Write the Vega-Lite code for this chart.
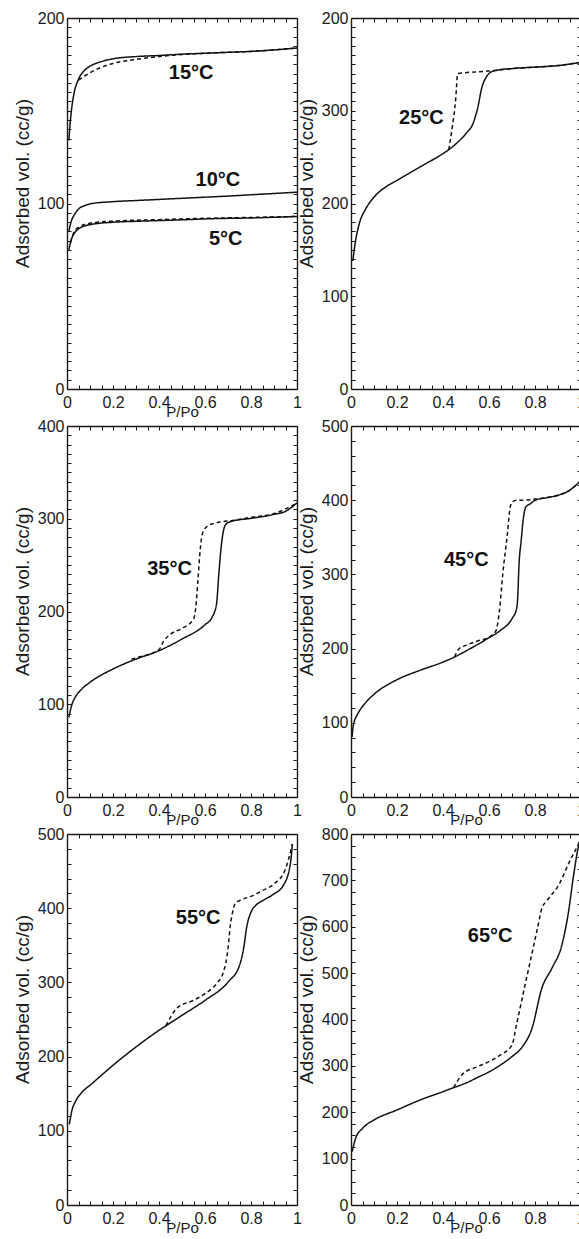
{
  "$schema": "https://vega.github.io/schema/vega-lite/v6.json",
  "padding": {"left": 13, "top": 10, "right": 0, "bottom": 0},
  "background": "white",
  "datasets": {
    "iso": [
      {"p":"a","T":"15","b":"ads","x":0.008,"y":134},{"p":"a","T":"15","b":"ads","x":0.015,"y":145},{"p":"a","T":"15","b":"ads","x":0.02,"y":151},{"p":"a","T":"15","b":"ads","x":0.03,"y":159},{"p":"a","T":"15","b":"ads","x":0.05,"y":167},{"p":"a","T":"15","b":"ads","x":0.07,"y":171},{"p":"a","T":"15","b":"ads","x":0.1,"y":174},{"p":"a","T":"15","b":"ads","x":0.15,"y":176.5},{"p":"a","T":"15","b":"ads","x":0.2,"y":178},{"p":"a","T":"15","b":"ads","x":0.3,"y":179.2},{"p":"a","T":"15","b":"ads","x":0.4,"y":179.8},{"p":"a","T":"15","b":"ads","x":0.5,"y":180.5},{"p":"a","T":"15","b":"ads","x":0.6,"y":181},{"p":"a","T":"15","b":"ads","x":0.7,"y":181.5},{"p":"a","T":"15","b":"ads","x":0.8,"y":182},{"p":"a","T":"15","b":"ads","x":0.9,"y":182.8},{"p":"a","T":"15","b":"ads","x":1.0,"y":183.8},
      {"p":"a","T":"15","b":"des","x":0.05,"y":166.5},{"p":"a","T":"15","b":"des","x":0.08,"y":169},{"p":"a","T":"15","b":"des","x":0.1,"y":170.5},{"p":"a","T":"15","b":"des","x":0.15,"y":173.5},{"p":"a","T":"15","b":"des","x":0.2,"y":175.5},{"p":"a","T":"15","b":"des","x":0.3,"y":177.7},{"p":"a","T":"15","b":"des","x":0.4,"y":179.2},{"p":"a","T":"15","b":"des","x":0.5,"y":180.3},{"p":"a","T":"15","b":"des","x":0.6,"y":181},{"p":"a","T":"15","b":"des","x":0.8,"y":182},{"p":"a","T":"15","b":"des","x":1.0,"y":183.8},
      {"p":"a","T":"10","b":"ads","x":0.008,"y":85},{"p":"a","T":"10","b":"ads","x":0.02,"y":91},{"p":"a","T":"10","b":"ads","x":0.03,"y":93.5},{"p":"a","T":"10","b":"ads","x":0.05,"y":97},{"p":"a","T":"10","b":"ads","x":0.08,"y":99},{"p":"a","T":"10","b":"ads","x":0.1,"y":99.8},{"p":"a","T":"10","b":"ads","x":0.2,"y":101},{"p":"a","T":"10","b":"ads","x":0.3,"y":101.6},{"p":"a","T":"10","b":"ads","x":0.4,"y":102.2},{"p":"a","T":"10","b":"ads","x":0.5,"y":102.8},{"p":"a","T":"10","b":"ads","x":0.6,"y":103.4},{"p":"a","T":"10","b":"ads","x":0.7,"y":104},{"p":"a","T":"10","b":"ads","x":0.8,"y":104.7},{"p":"a","T":"10","b":"ads","x":0.9,"y":105.4},{"p":"a","T":"10","b":"ads","x":1.0,"y":106.1},
      {"p":"a","T":"5","b":"ads","x":0.008,"y":75},{"p":"a","T":"5","b":"ads","x":0.02,"y":81},{"p":"a","T":"5","b":"ads","x":0.03,"y":83.6},{"p":"a","T":"5","b":"ads","x":0.05,"y":86.3},{"p":"a","T":"5","b":"ads","x":0.1,"y":88.6},{"p":"a","T":"5","b":"ads","x":0.2,"y":89.9},{"p":"a","T":"5","b":"ads","x":0.3,"y":90.4},{"p":"a","T":"5","b":"ads","x":0.4,"y":90.8},{"p":"a","T":"5","b":"ads","x":0.5,"y":91.2},{"p":"a","T":"5","b":"ads","x":0.6,"y":91.7},{"p":"a","T":"5","b":"ads","x":0.7,"y":92},{"p":"a","T":"5","b":"ads","x":0.8,"y":92.2},{"p":"a","T":"5","b":"ads","x":0.9,"y":92.6},{"p":"a","T":"5","b":"ads","x":1.0,"y":93},
      {"p":"a","T":"5","b":"des","x":0.015,"y":79},{"p":"a","T":"5","b":"des","x":0.03,"y":84.5},{"p":"a","T":"5","b":"des","x":0.05,"y":87.2},{"p":"a","T":"5","b":"des","x":0.1,"y":89.4},{"p":"a","T":"5","b":"des","x":0.2,"y":90.5},{"p":"a","T":"5","b":"des","x":0.3,"y":91},{"p":"a","T":"5","b":"des","x":0.4,"y":91.3},{"p":"a","T":"5","b":"des","x":0.5,"y":91.7},{"p":"a","T":"5","b":"des","x":0.6,"y":92},{"p":"a","T":"5","b":"des","x":0.8,"y":92.5},{"p":"a","T":"5","b":"des","x":1.0,"y":93},

      {"p":"b","T":"25","b":"ads","x":0.008,"y":138},{"p":"b","T":"25","b":"ads","x":0.015,"y":152},{"p":"b","T":"25","b":"ads","x":0.02,"y":160},{"p":"b","T":"25","b":"ads","x":0.04,"y":181.6},{"p":"b","T":"25","b":"ads","x":0.06,"y":192.4},{"p":"b","T":"25","b":"ads","x":0.1,"y":206.9},{"p":"b","T":"25","b":"ads","x":0.15,"y":217.7},{"p":"b","T":"25","b":"ads","x":0.2,"y":224.9},{"p":"b","T":"25","b":"ads","x":0.3,"y":239.4},{"p":"b","T":"25","b":"ads","x":0.4,"y":253.8},{"p":"b","T":"25","b":"ads","x":0.425,"y":258},{"p":"b","T":"25","b":"ads","x":0.45,"y":263},{"p":"b","T":"25","b":"ads","x":0.5,"y":275.5},{"p":"b","T":"25","b":"ads","x":0.53,"y":286},{"p":"b","T":"25","b":"ads","x":0.55,"y":302},{"p":"b","T":"25","b":"ads","x":0.57,"y":326},{"p":"b","T":"25","b":"ads","x":0.59,"y":337},{"p":"b","T":"25","b":"ads","x":0.61,"y":342},{"p":"b","T":"25","b":"ads","x":0.63,"y":343.5},{"p":"b","T":"25","b":"ads","x":0.7,"y":345.5},{"p":"b","T":"25","b":"ads","x":0.8,"y":347},{"p":"b","T":"25","b":"ads","x":0.9,"y":348.7},{"p":"b","T":"25","b":"ads","x":1.0,"y":352.3},
      {"p":"b","T":"25","b":"des","x":0.425,"y":258},{"p":"b","T":"25","b":"des","x":0.44,"y":282},{"p":"b","T":"25","b":"des","x":0.455,"y":312},{"p":"b","T":"25","b":"des","x":0.464,"y":340},{"p":"b","T":"25","b":"des","x":0.58,"y":342.5},{"p":"b","T":"25","b":"des","x":0.62,"y":343.3},{"p":"b","T":"25","b":"des","x":0.7,"y":345.5},{"p":"b","T":"25","b":"des","x":0.8,"y":347},{"p":"b","T":"25","b":"des","x":0.9,"y":348.7},{"p":"b","T":"25","b":"des","x":1.0,"y":352.3},

      {"p":"c","T":"35","b":"ads","x":0.008,"y":86},{"p":"c","T":"35","b":"ads","x":0.02,"y":98.6},{"p":"c","T":"35","b":"ads","x":0.04,"y":109.3},{"p":"c","T":"35","b":"ads","x":0.06,"y":115.4},{"p":"c","T":"35","b":"ads","x":0.1,"y":123.7},{"p":"c","T":"35","b":"ads","x":0.2,"y":138},{"p":"c","T":"35","b":"ads","x":0.3,"y":148.7},{"p":"c","T":"35","b":"ads","x":0.4,"y":157.7},{"p":"c","T":"35","b":"ads","x":0.5,"y":170.3},{"p":"c","T":"35","b":"ads","x":0.6,"y":185.7},{"p":"c","T":"35","b":"ads","x":0.63,"y":193.5},{"p":"c","T":"35","b":"ads","x":0.65,"y":207.9},{"p":"c","T":"35","b":"ads","x":0.66,"y":240},{"p":"c","T":"35","b":"ads","x":0.67,"y":268.8},{"p":"c","T":"35","b":"ads","x":0.68,"y":286.7},{"p":"c","T":"35","b":"ads","x":0.69,"y":293.9},{"p":"c","T":"35","b":"ads","x":0.72,"y":297.5},{"p":"c","T":"35","b":"ads","x":0.8,"y":300.4},{"p":"c","T":"35","b":"ads","x":0.9,"y":304.7},{"p":"c","T":"35","b":"ads","x":0.95,"y":308},{"p":"c","T":"35","b":"ads","x":1.0,"y":317.2},
      {"p":"c","T":"35","b":"des","x":0.28,"y":148.5},{"p":"c","T":"35","b":"des","x":0.3,"y":150},{"p":"c","T":"35","b":"des","x":0.4,"y":159},{"p":"c","T":"35","b":"des","x":0.42,"y":168},{"p":"c","T":"35","b":"des","x":0.45,"y":175.6},{"p":"c","T":"35","b":"des","x":0.5,"y":181.7},{"p":"c","T":"35","b":"des","x":0.55,"y":191.8},{"p":"c","T":"35","b":"des","x":0.56,"y":204.3},{"p":"c","T":"35","b":"des","x":0.57,"y":236.6},{"p":"c","T":"35","b":"des","x":0.58,"y":268.8},{"p":"c","T":"35","b":"des","x":0.59,"y":285},{"p":"c","T":"35","b":"des","x":0.61,"y":292},{"p":"c","T":"35","b":"des","x":0.65,"y":295.7},{"p":"c","T":"35","b":"des","x":0.72,"y":298.2},{"p":"c","T":"35","b":"des","x":0.8,"y":301.5},{"p":"c","T":"35","b":"des","x":0.9,"y":305.5},{"p":"c","T":"35","b":"des","x":1.0,"y":317},

      {"p":"d","T":"45","b":"ads","x":0.005,"y":81},{"p":"d","T":"45","b":"ads","x":0.01,"y":96.6},{"p":"d","T":"45","b":"ads","x":0.03,"y":112.3},{"p":"d","T":"45","b":"ads","x":0.06,"y":125.8},{"p":"d","T":"45","b":"ads","x":0.1,"y":138.4},{"p":"d","T":"45","b":"ads","x":0.2,"y":158.1},{"p":"d","T":"45","b":"ads","x":0.3,"y":170.7},{"p":"d","T":"45","b":"ads","x":0.4,"y":181.9},{"p":"d","T":"45","b":"ads","x":0.45,"y":188.7},{"p":"d","T":"45","b":"ads","x":0.5,"y":196.8},{"p":"d","T":"45","b":"ads","x":0.6,"y":214.7},{"p":"d","T":"45","b":"ads","x":0.65,"y":224.6},{"p":"d","T":"45","b":"ads","x":0.7,"y":240.3},{"p":"d","T":"45","b":"ads","x":0.72,"y":253.8},{"p":"d","T":"45","b":"ads","x":0.725,"y":269.5},{"p":"d","T":"45","b":"ads","x":0.73,"y":310},{"p":"d","T":"45","b":"ads","x":0.74,"y":346},{"p":"d","T":"45","b":"ads","x":0.75,"y":377},{"p":"d","T":"45","b":"ads","x":0.76,"y":390.8},{"p":"d","T":"45","b":"ads","x":0.78,"y":395.3},{"p":"d","T":"45","b":"ads","x":0.8,"y":399.8},{"p":"d","T":"45","b":"ads","x":0.85,"y":403.4},{"p":"d","T":"45","b":"ads","x":0.9,"y":406.6},{"p":"d","T":"45","b":"ads","x":0.95,"y":413.3},{"p":"d","T":"45","b":"ads","x":1.0,"y":426.8},
      {"p":"d","T":"45","b":"des","x":0.45,"y":188.7},{"p":"d","T":"45","b":"des","x":0.47,"y":199.9},{"p":"d","T":"45","b":"des","x":0.5,"y":204.4},{"p":"d","T":"45","b":"des","x":0.55,"y":210.2},{"p":"d","T":"45","b":"des","x":0.6,"y":215.6},{"p":"d","T":"45","b":"des","x":0.63,"y":224},{"p":"d","T":"45","b":"des","x":0.645,"y":250},{"p":"d","T":"45","b":"des","x":0.66,"y":301},{"p":"d","T":"45","b":"des","x":0.68,"y":354.9},{"p":"d","T":"45","b":"des","x":0.69,"y":386.3},{"p":"d","T":"45","b":"des","x":0.7,"y":397.6},{"p":"d","T":"45","b":"des","x":0.72,"y":399.8},{"p":"d","T":"45","b":"des","x":0.76,"y":400.2},{"p":"d","T":"45","b":"des","x":0.8,"y":401.5},{"p":"d","T":"45","b":"des","x":0.85,"y":403.4},{"p":"d","T":"45","b":"des","x":0.9,"y":406.6},{"p":"d","T":"45","b":"des","x":0.95,"y":413.3},{"p":"d","T":"45","b":"des","x":1.0,"y":426.8},

      {"p":"e","T":"55","b":"ads","x":0.01,"y":108.5},{"p":"e","T":"55","b":"ads","x":0.02,"y":125.6},{"p":"e","T":"55","b":"ads","x":0.04,"y":141.3},{"p":"e","T":"55","b":"ads","x":0.06,"y":150.2},{"p":"e","T":"55","b":"ads","x":0.08,"y":156.5},{"p":"e","T":"55","b":"ads","x":0.1,"y":161.4},{"p":"e","T":"55","b":"ads","x":0.13,"y":169.5},{"p":"e","T":"55","b":"ads","x":0.2,"y":188.3},{"p":"e","T":"55","b":"ads","x":0.3,"y":213},{"p":"e","T":"55","b":"ads","x":0.4,"y":235.4},{"p":"e","T":"55","b":"ads","x":0.43,"y":241.5},{"p":"e","T":"55","b":"ads","x":0.5,"y":255.6},{"p":"e","T":"55","b":"ads","x":0.6,"y":275.8},{"p":"e","T":"55","b":"ads","x":0.7,"y":300.4},{"p":"e","T":"55","b":"ads","x":0.75,"y":322.9},{"p":"e","T":"55","b":"ads","x":0.77,"y":349.8},{"p":"e","T":"55","b":"ads","x":0.78,"y":372.2},{"p":"e","T":"55","b":"ads","x":0.8,"y":394.6},{"p":"e","T":"55","b":"ads","x":0.82,"y":403.6},{"p":"e","T":"55","b":"ads","x":0.85,"y":410},{"p":"e","T":"55","b":"ads","x":0.9,"y":419.3},{"p":"e","T":"55","b":"ads","x":0.94,"y":430.5},{"p":"e","T":"55","b":"ads","x":0.97,"y":457.4},{"p":"e","T":"55","b":"ads","x":0.98,"y":486.5},
      {"p":"e","T":"55","b":"des","x":0.43,"y":241.5},{"p":"e","T":"55","b":"des","x":0.48,"y":265.9},{"p":"e","T":"55","b":"des","x":0.55,"y":275.8},{"p":"e","T":"55","b":"des","x":0.6,"y":284.8},{"p":"e","T":"55","b":"des","x":0.65,"y":298.2},{"p":"e","T":"55","b":"des","x":0.68,"y":314},{"p":"e","T":"55","b":"des","x":0.7,"y":345.3},{"p":"e","T":"55","b":"des","x":0.71,"y":376.7},{"p":"e","T":"55","b":"des","x":0.72,"y":394.6},{"p":"e","T":"55","b":"des","x":0.73,"y":405.8},{"p":"e","T":"55","b":"des","x":0.75,"y":410.3},{"p":"e","T":"55","b":"des","x":0.8,"y":416},{"p":"e","T":"55","b":"des","x":0.85,"y":423.8},{"p":"e","T":"55","b":"des","x":0.9,"y":432.7},{"p":"e","T":"55","b":"des","x":0.95,"y":452.9},{"p":"e","T":"55","b":"des","x":0.98,"y":486.5},

      {"p":"f","T":"65","b":"ads","x":0.005,"y":115},{"p":"f","T":"65","b":"ads","x":0.02,"y":143.8},{"p":"f","T":"65","b":"ads","x":0.05,"y":165.3},{"p":"f","T":"65","b":"ads","x":0.1,"y":183.3},{"p":"f","T":"65","b":"ads","x":0.2,"y":204.9},{"p":"f","T":"65","b":"ads","x":0.3,"y":226.4},{"p":"f","T":"65","b":"ads","x":0.4,"y":244.4},{"p":"f","T":"65","b":"ads","x":0.446,"y":253},{"p":"f","T":"65","b":"ads","x":0.5,"y":263},{"p":"f","T":"65","b":"ads","x":0.55,"y":275},{"p":"f","T":"65","b":"ads","x":0.6,"y":287},{"p":"f","T":"65","b":"ads","x":0.65,"y":302},{"p":"f","T":"65","b":"ads","x":0.7,"y":320},{"p":"f","T":"65","b":"ads","x":0.743,"y":340},{"p":"f","T":"65","b":"ads","x":0.787,"y":381},{"p":"f","T":"65","b":"ads","x":0.83,"y":468},{"p":"f","T":"65","b":"ads","x":0.874,"y":511},{"p":"f","T":"65","b":"ads","x":0.917,"y":561},{"p":"f","T":"65","b":"ads","x":0.946,"y":633},{"p":"f","T":"65","b":"ads","x":0.968,"y":712},{"p":"f","T":"65","b":"ads","x":0.99,"y":775},{"p":"f","T":"65","b":"ads","x":1.0,"y":792},
      {"p":"f","T":"65","b":"des","x":0.446,"y":253},{"p":"f","T":"65","b":"des","x":0.483,"y":281},{"p":"f","T":"65","b":"des","x":0.55,"y":298.3},{"p":"f","T":"65","b":"des","x":0.6,"y":309.1},{"p":"f","T":"65","b":"des","x":0.65,"y":323.5},{"p":"f","T":"65","b":"des","x":0.7,"y":345},{"p":"f","T":"65","b":"des","x":0.72,"y":390},{"p":"f","T":"65","b":"des","x":0.75,"y":459},{"p":"f","T":"65","b":"des","x":0.78,"y":527},{"p":"f","T":"65","b":"des","x":0.81,"y":595},{"p":"f","T":"65","b":"des","x":0.83,"y":640},{"p":"f","T":"65","b":"des","x":0.85,"y":655},{"p":"f","T":"65","b":"des","x":0.903,"y":690},{"p":"f","T":"65","b":"des","x":0.95,"y":740.5},{"p":"f","T":"65","b":"des","x":0.99,"y":780},{"p":"f","T":"65","b":"des","x":1.0,"y":792}
    ],
    "lab": [
      {"p":"a","x":0.54,"y":170.6,"t":"15°C"},
      {"p":"a","x":0.656,"y":112.5,"t":"10°C"},
      {"p":"a","x":0.69,"y":80.9,"t":"5°C"},
      {"p":"b","x":0.306,"y":291.7,"t":"25°C"},
      {"p":"c","x":0.446,"y":245.5,"t":"35°C"},
      {"p":"d","x":0.501,"y":319,"t":"45°C"},
      {"p":"e","x":0.57,"y":387,"t":"55°C"},
      {"p":"f","x":0.605,"y":580,"t":"65°C"}
    ]
  },
  "config": {
    "font": "Liberation Sans",
    "view": {"stroke": null},
    "axis": {
      "grid": false,
      "domainColor": "#1a1a1a",
      "domainWidth": 1.4,
      "tickColor": "#1a1a1a",
      "tickWidth": 1,
      "tickSize": -4,
      "labelColor": "#1a1a1a",
      "titleColor": "#1a1a1a",
      "labelFont": "Liberation Sans",
      "titleFont": "Liberation Sans",
      "labelFontSize": 16,
      "titleFontSize": 15,
      "titleFontWeight": "normal",
      "labelOverlap": false,
      "labelFlush": false
    },
    "axisBottom": {"labelPadding": 9, "titlePadding": -6},
    "axisLeft": {"labelPadding": 7, "titlePadding": 5, "titleFontSize": 19, "titleY": 165},
    "text": {"font": "Liberation Sans", "fontWeight": "bold", "fontSize": 20, "color": "#111"},
    "line": {"color": "#111", "strokeWidth": 1.5, "interpolate": "monotone"}
  },
  "bounds": "flush",
  "columns": 2,
  "spacing": {"row": 37, "column": 54},
  "concat": [
      {"width": 230, "height": 371,
       "resolve": {"axis": {"x": "independent", "y": "independent"}},
       "layer": [
        {"data": {"name": "iso"}, "transform": [{"filter": "datum.p == 'a'"}],
         "mark": {"type": "line"},
         "encoding": {
          "x": {"field": "x", "type": "quantitative", "scale": {"domain": [0, 1], "nice": false, "zero": false},
                "axis": {"orient": "bottom", "title": "P/Po", "values": [0,0.05,0.1,0.15,0.2,0.25,0.3,0.35,0.4,0.45,0.5,0.55,0.6,0.65,0.7,0.75,0.8,0.85,0.9,0.95,1], "labelExpr": "abs(datum.value*5 - round(datum.value*5)) < 0.001 ? format(datum.value, '~g') : ''"}},
          "y": {"field": "y", "type": "quantitative", "scale": {"domain": [0, 200], "nice": false},
                "axis": {"orient": "left", "title": "Adsorbed vol. (cc/g)", "values": [0,5,10,15,20,25,30,35,40,45,50,55,60,65,70,75,80,85,90,95,100,105,110,115,120,125,130,135,140,145,150,155,160,165,170,175,180,185,190,195,200], "labelExpr": "datum.value % 100 == 0 ? format(datum.value, 'd') : ''"}},
          "detail": {"field": "T", "type": "nominal"},
          "strokeDash": {"field": "b", "type": "nominal", "scale": {"domain": ["ads", "des"], "range": [[1, 0], [4, 3]]}, "legend": null}
         }},
        {"data": {"name": "iso"}, "transform": [{"filter": "datum.p == 'a'"}],
         "mark": {"type": "line", "opacity": 0},
         "encoding": {
          "x": {"field": "x", "type": "quantitative", "axis": {"orient": "top", "title": null, "labels": false, "values": [0,0.05,0.1,0.15,0.2,0.25,0.3,0.35,0.4,0.45,0.5,0.55,0.6,0.65,0.7,0.75,0.8,0.85,0.9,0.95,1]}},
          "y": {"field": "y", "type": "quantitative", "axis": {"orient": "right", "title": null, "labels": false, "values": [0,5,10,15,20,25,30,35,40,45,50,55,60,65,70,75,80,85,90,95,100,105,110,115,120,125,130,135,140,145,150,155,160,165,170,175,180,185,190,195,200]}},
          "detail": {"field": "T", "type": "nominal"}
         }},
        {"data": {"name": "lab"}, "transform": [{"filter": "datum.p == 'a'"}],
         "mark": {"type": "text"},
         "encoding": {
          "x": {"field": "x", "type": "quantitative", "axis": null},
          "y": {"field": "y", "type": "quantitative", "axis": null},
          "text": {"field": "t"}
         }}
       ]},
      {"width": 230, "height": 371,
       "resolve": {"axis": {"x": "independent", "y": "independent"}},
       "layer": [
        {"data": {"name": "iso"}, "transform": [{"filter": "datum.p == 'b'"}],
         "mark": {"type": "line"},
         "encoding": {
          "x": {"field": "x", "type": "quantitative", "scale": {"domain": [0, 1], "nice": false, "zero": false},
                "axis": {"orient": "bottom", "title": null, "values": [0,0.05,0.1,0.15,0.2,0.25,0.3,0.35,0.4,0.45,0.5,0.55,0.6,0.65,0.7,0.75,0.8,0.85,0.9,0.95,1], "labelExpr": "abs(datum.value*5 - round(datum.value*5)) < 0.001 ? format(datum.value, '~g') : ''"}},
          "y": {"field": "y", "type": "quantitative", "scale": {"domain": [0, 400], "nice": false},
                "axis": {"orient": "left", "title": "Adsorbed vol. (cc/g)", "values": [0,10,20,30,40,50,60,70,80,90,100,110,120,130,140,150,160,170,180,190,200,210,220,230,240,250,260,270,280,290,300,310,320,330,340,350,360,370,380,390,400], "labelExpr": "datum.value == 400 ? '200' : (datum.value % 100 == 0 ? format(datum.value, 'd') : '')"}},
          "strokeDash": {"field": "b", "type": "nominal", "scale": {"domain": ["ads", "des"], "range": [[1, 0], [4, 3]]}, "legend": null}
         }},
        {"data": {"name": "iso"}, "transform": [{"filter": "datum.p == 'b'"}],
         "mark": {"type": "line", "opacity": 0},
         "encoding": {
          "x": {"field": "x", "type": "quantitative", "axis": {"orient": "top", "title": null, "labels": false, "values": [0,0.05,0.1,0.15,0.2,0.25,0.3,0.35,0.4,0.45,0.5,0.55,0.6,0.65,0.7,0.75,0.8,0.85,0.9,0.95,1]}},
          "y": {"field": "y", "type": "quantitative", "axis": {"orient": "right", "title": null, "labels": false, "values": [0,10,20,30,40,50,60,70,80,90,100,110,120,130,140,150,160,170,180,190,200,210,220,230,240,250,260,270,280,290,300,310,320,330,340,350,360,370,380,390,400]}}
         }},
        {"data": {"name": "lab"}, "transform": [{"filter": "datum.p == 'b'"}],
         "mark": {"type": "text"},
         "encoding": {
          "x": {"field": "x", "type": "quantitative", "axis": null},
          "y": {"field": "y", "type": "quantitative", "axis": null},
          "text": {"field": "t"}
         }}
       ]},
      {"width": 230, "height": 371,
       "resolve": {"axis": {"x": "independent", "y": "independent"}},
       "layer": [
        {"data": {"name": "iso"}, "transform": [{"filter": "datum.p == 'c'"}],
         "mark": {"type": "line"},
         "encoding": {
          "x": {"field": "x", "type": "quantitative", "scale": {"domain": [0, 1], "nice": false, "zero": false},
                "axis": {"orient": "bottom", "title": "P/Po", "values": [0,0.05,0.1,0.15,0.2,0.25,0.3,0.35,0.4,0.45,0.5,0.55,0.6,0.65,0.7,0.75,0.8,0.85,0.9,0.95,1], "labelExpr": "abs(datum.value*5 - round(datum.value*5)) < 0.001 ? format(datum.value, '~g') : ''"}},
          "y": {"field": "y", "type": "quantitative", "scale": {"domain": [0, 400], "nice": false},
                "axis": {"orient": "left", "title": "Adsorbed vol. (cc/g)", "values": [0,10,20,30,40,50,60,70,80,90,100,110,120,130,140,150,160,170,180,190,200,210,220,230,240,250,260,270,280,290,300,310,320,330,340,350,360,370,380,390,400], "labelExpr": "datum.value % 100 == 0 ? format(datum.value, 'd') : ''"}},
          "strokeDash": {"field": "b", "type": "nominal", "scale": {"domain": ["ads", "des"], "range": [[1, 0], [4, 3]]}, "legend": null}
         }},
        {"data": {"name": "iso"}, "transform": [{"filter": "datum.p == 'c'"}],
         "mark": {"type": "line", "opacity": 0},
         "encoding": {
          "x": {"field": "x", "type": "quantitative", "axis": {"orient": "top", "title": null, "labels": false, "values": [0,0.05,0.1,0.15,0.2,0.25,0.3,0.35,0.4,0.45,0.5,0.55,0.6,0.65,0.7,0.75,0.8,0.85,0.9,0.95,1]}},
          "y": {"field": "y", "type": "quantitative", "axis": {"orient": "right", "title": null, "labels": false, "values": [0,10,20,30,40,50,60,70,80,90,100,110,120,130,140,150,160,170,180,190,200,210,220,230,240,250,260,270,280,290,300,310,320,330,340,350,360,370,380,390,400]}}
         }},
        {"data": {"name": "lab"}, "transform": [{"filter": "datum.p == 'c'"}],
         "mark": {"type": "text"},
         "encoding": {
          "x": {"field": "x", "type": "quantitative", "axis": null},
          "y": {"field": "y", "type": "quantitative", "axis": null},
          "text": {"field": "t"}
         }}
       ]},
      {"width": 230, "height": 371,
       "resolve": {"axis": {"x": "independent", "y": "independent"}},
       "layer": [
        {"data": {"name": "iso"}, "transform": [{"filter": "datum.p == 'd'"}],
         "mark": {"type": "line"},
         "encoding": {
          "x": {"field": "x", "type": "quantitative", "scale": {"domain": [0, 1], "nice": false, "zero": false},
                "axis": {"orient": "bottom", "title": "P/Po", "values": [0,0.05,0.1,0.15,0.2,0.25,0.3,0.35,0.4,0.45,0.5,0.55,0.6,0.65,0.7,0.75,0.8,0.85,0.9,0.95,1], "labelExpr": "abs(datum.value*5 - round(datum.value*5)) < 0.001 ? format(datum.value, '~g') : ''"}},
          "y": {"field": "y", "type": "quantitative", "scale": {"domain": [0, 500], "nice": false},
                "axis": {"orient": "left", "title": "Adsorbed vol. (cc/g)", "values": [0,20,40,60,80,100,120,140,160,180,200,220,240,260,280,300,320,340,360,380,400,420,440,460,480,500], "labelExpr": "datum.value % 100 == 0 ? format(datum.value, 'd') : ''"}},
          "strokeDash": {"field": "b", "type": "nominal", "scale": {"domain": ["ads", "des"], "range": [[1, 0], [4, 3]]}, "legend": null}
         }},
        {"data": {"name": "iso"}, "transform": [{"filter": "datum.p == 'd'"}],
         "mark": {"type": "line", "opacity": 0},
         "encoding": {
          "x": {"field": "x", "type": "quantitative", "axis": {"orient": "top", "title": null, "labels": false, "values": [0,0.05,0.1,0.15,0.2,0.25,0.3,0.35,0.4,0.45,0.5,0.55,0.6,0.65,0.7,0.75,0.8,0.85,0.9,0.95,1]}},
          "y": {"field": "y", "type": "quantitative", "axis": {"orient": "right", "title": null, "labels": false, "values": [0,20,40,60,80,100,120,140,160,180,200,220,240,260,280,300,320,340,360,380,400,420,440,460,480,500]}}
         }},
        {"data": {"name": "lab"}, "transform": [{"filter": "datum.p == 'd'"}],
         "mark": {"type": "text"},
         "encoding": {
          "x": {"field": "x", "type": "quantitative", "axis": null},
          "y": {"field": "y", "type": "quantitative", "axis": null},
          "text": {"field": "t"}
         }}
       ]},
      {"width": 230, "height": 371,
       "resolve": {"axis": {"x": "independent", "y": "independent"}},
       "layer": [
        {"data": {"name": "iso"}, "transform": [{"filter": "datum.p == 'e'"}],
         "mark": {"type": "line"},
         "encoding": {
          "x": {"field": "x", "type": "quantitative", "scale": {"domain": [0, 1], "nice": false, "zero": false},
                "axis": {"orient": "bottom", "title": "P/Po", "values": [0,0.05,0.1,0.15,0.2,0.25,0.3,0.35,0.4,0.45,0.5,0.55,0.6,0.65,0.7,0.75,0.8,0.85,0.9,0.95,1], "labelExpr": "abs(datum.value*5 - round(datum.value*5)) < 0.001 ? format(datum.value, '~g') : ''"}},
          "y": {"field": "y", "type": "quantitative", "scale": {"domain": [0, 500], "nice": false},
                "axis": {"orient": "left", "title": "Adsorbed vol. (cc/g)", "values": [0,20,40,60,80,100,120,140,160,180,200,220,240,260,280,300,320,340,360,380,400,420,440,460,480,500], "labelExpr": "datum.value % 100 == 0 ? format(datum.value, 'd') : ''"}},
          "strokeDash": {"field": "b", "type": "nominal", "scale": {"domain": ["ads", "des"], "range": [[1, 0], [4, 3]]}, "legend": null}
         }},
        {"data": {"name": "iso"}, "transform": [{"filter": "datum.p == 'e'"}],
         "mark": {"type": "line", "opacity": 0},
         "encoding": {
          "x": {"field": "x", "type": "quantitative", "axis": {"orient": "top", "title": null, "labels": false, "values": [0,0.05,0.1,0.15,0.2,0.25,0.3,0.35,0.4,0.45,0.5,0.55,0.6,0.65,0.7,0.75,0.8,0.85,0.9,0.95,1]}},
          "y": {"field": "y", "type": "quantitative", "axis": {"orient": "right", "title": null, "labels": false, "values": [0,20,40,60,80,100,120,140,160,180,200,220,240,260,280,300,320,340,360,380,400,420,440,460,480,500]}}
         }},
        {"data": {"name": "lab"}, "transform": [{"filter": "datum.p == 'e'"}],
         "mark": {"type": "text"},
         "encoding": {
          "x": {"field": "x", "type": "quantitative", "axis": null},
          "y": {"field": "y", "type": "quantitative", "axis": null},
          "text": {"field": "t"}
         }}
       ]},
      {"width": 230, "height": 371,
       "resolve": {"axis": {"x": "independent", "y": "independent"}},
       "layer": [
        {"data": {"name": "iso"}, "transform": [{"filter": "datum.p == 'f'"}],
         "mark": {"type": "line"},
         "encoding": {
          "x": {"field": "x", "type": "quantitative", "scale": {"domain": [0, 1], "nice": false, "zero": false},
                "axis": {"orient": "bottom", "title": "P/Po", "values": [0,0.05,0.1,0.15,0.2,0.25,0.3,0.35,0.4,0.45,0.5,0.55,0.6,0.65,0.7,0.75,0.8,0.85,0.9,0.95,1], "labelExpr": "abs(datum.value*5 - round(datum.value*5)) < 0.001 ? format(datum.value, '~g') : ''"}},
          "y": {"field": "y", "type": "quantitative", "scale": {"domain": [0, 800], "nice": false},
                "axis": {"orient": "left", "title": "Adsorbed vol. (cc/g)", "values": [0,25,50,75,100,125,150,175,200,225,250,275,300,325,350,375,400,425,450,475,500,525,550,575,600,625,650,675,700,725,750,775,800], "labelExpr": "datum.value % 100 == 0 ? format(datum.value, 'd') : ''"}},
          "strokeDash": {"field": "b", "type": "nominal", "scale": {"domain": ["ads", "des"], "range": [[1, 0], [4, 3]]}, "legend": null}
         }},
        {"data": {"name": "iso"}, "transform": [{"filter": "datum.p == 'f'"}],
         "mark": {"type": "line", "opacity": 0},
         "encoding": {
          "x": {"field": "x", "type": "quantitative", "axis": {"orient": "top", "title": null, "labels": false, "values": [0,0.05,0.1,0.15,0.2,0.25,0.3,0.35,0.4,0.45,0.5,0.55,0.6,0.65,0.7,0.75,0.8,0.85,0.9,0.95,1]}},
          "y": {"field": "y", "type": "quantitative", "axis": {"orient": "right", "title": null, "labels": false, "values": [0,25,50,75,100,125,150,175,200,225,250,275,300,325,350,375,400,425,450,475,500,525,550,575,600,625,650,675,700,725,750,775,800]}}
         }},
        {"data": {"name": "lab"}, "transform": [{"filter": "datum.p == 'f'"}],
         "mark": {"type": "text"},
         "encoding": {
          "x": {"field": "x", "type": "quantitative", "axis": null},
          "y": {"field": "y", "type": "quantitative", "axis": null},
          "text": {"field": "t"}
         }}
       ]}
  ]
}
